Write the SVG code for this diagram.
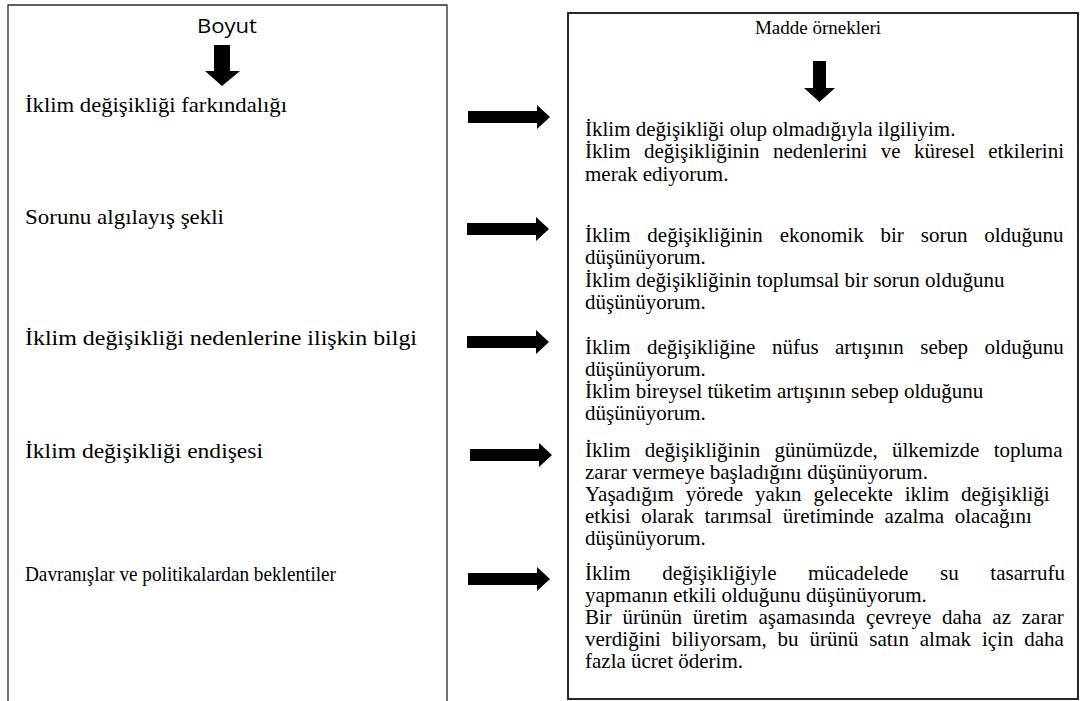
<svg xmlns="http://www.w3.org/2000/svg" xmlns:xlink="http://www.w3.org/1999/xlink" width="1086" height="701" viewBox="0 0 1086 701">
<style>
.frame{fill:none;stroke:#2a2a2a;stroke-width:1.3}
.frame2{fill:none;stroke:#111;stroke-width:1.8}
.serif{font-family:'Liberation Serif','Times New Roman','DejaVu Serif',serif;fill:#000}
.lt{font-size:22px}
.rt{font-size:21px}
.hd{font-size:19px}
.sans{font-family:'Open Sans','Noto Sans',sans-serif;font-size:20px;fill:#000}
.arr{fill:#000;stroke:none}
</style>
<defs>
<path id="rarrow" d="M0,-6 H69 V-12 L82,0 L69,12 V6 H0 Z"/>
</defs>
<rect width="1086" height="701" fill="#fff"/>

<g id="boyut-box">
  <path class="frame" d="M8,701 V5 H447 V701"/>
  <text class="sans" x="197" y="33" textLength="60" lengthAdjust="spacingAndGlyphs">Boyut</text>
  <polygon class="arr" points="214,45 230,45 230,71 240,71 222,86 205,71 214,71"/>
  <g id="dim-1"><text class="serif lt" font-family="Liberation Serif" x="25" y="112" textLength="262" lengthAdjust="spacingAndGlyphs">İklim değişikliği farkındalığı</text></g>
  <g id="dim-2"><text class="serif lt" font-family="Liberation Serif" x="25" y="224" textLength="199" lengthAdjust="spacingAndGlyphs">Sorunu algılayış şekli</text></g>
  <g id="dim-3"><text class="serif lt" font-family="Liberation Serif" x="25" y="345" textLength="392" lengthAdjust="spacingAndGlyphs">İklim değişikliği nedenlerine ilişkin bilgi</text></g>
  <g id="dim-4"><text class="serif lt" font-family="Liberation Serif" x="25" y="458" textLength="238" lengthAdjust="spacingAndGlyphs">İklim değişikliği endişesi</text></g>
  <g id="dim-5"><text class="serif lt" font-family="Liberation Serif" x="25" y="581" textLength="311" lengthAdjust="spacingAndGlyphs">Davranışlar ve politikalardan beklentiler</text></g>
</g>

<g id="madde-box">
  <rect class="frame2" x="568" y="13" width="510" height="686"/>
  <text class="serif hd" font-family="Liberation Serif" x="818" y="34" text-anchor="middle">Madde örnekleri</text>
  <polygon class="arr" points="813,61 826,61 826,88 835,88 819.5,102 804,88 813,88"/>
  <g id="item-1" class="serif rt" font-family="Liberation Serif">
    <text x="585" y="136">İklim değişikliği olup olmadığıyla ilgiliyim.</text>
    <text x="585" y="158" style="word-spacing:8.2px">İklim değişikliğinin nedenlerini ve küresel etkilerini</text>
    <text x="585" y="181">merak ediyorum.</text>
  </g>
  <g id="item-2" class="serif rt" font-family="Liberation Serif">
    <text x="585" y="242" style="word-spacing:11.6px">İklim değişikliğinin ekonomik bir sorun olduğunu</text>
    <text x="585" y="264">düşünüyorum.</text>
    <text x="585" y="287">İklim değişikliğinin toplumsal bir sorun olduğunu</text>
    <text x="585" y="309">düşünüyorum.</text>
  </g>
  <g id="item-3" class="serif rt" font-family="Liberation Serif">
    <text x="585" y="354" style="word-spacing:11.2px">İklim değişikliğine nüfus artışının sebep olduğunu</text>
    <text x="585" y="376">düşünüyorum.</text>
    <text x="585" y="398">İklim bireysel tüketim artışının sebep olduğunu</text>
    <text x="585" y="420">düşünüyorum.</text>
  </g>
  <g id="item-4" class="serif rt" font-family="Liberation Serif">
    <text x="585" y="457" style="word-spacing:9px">İklim değişikliğinin günümüzde, ülkemizde topluma</text>
    <text x="585" y="479">zarar vermeye başladığını düşünüyorum.</text>
    <text x="585" y="501" style="word-spacing:6.7px">Yaşadığım yörede yakın gelecekte iklim değişikliği</text>
    <text x="585" y="523" style="word-spacing:5.5px">etkisi olarak tarımsal üretiminde azalma olacağını</text>
    <text x="585" y="545">düşünüyorum.</text>
  </g>
  <g id="item-5" class="serif rt" font-family="Liberation Serif">
    <text x="585" y="580" style="word-spacing:26.4px">İklim değişikliğiyle mücadelede su tasarrufu</text>
    <text x="585" y="602">yapmanın etkili olduğunu düşünüyorum.</text>
    <text x="585" y="624" style="word-spacing:5.5px">Bir ürünün üretim aşamasında çevreye daha az zarar</text>
    <text x="585" y="646" style="word-spacing:5.6px">verdiğini biliyorsam, bu ürünü satın almak için daha</text>
    <text x="585" y="668">fazla ücret öderim.</text>
  </g>
</g>

<g id="connectors">
  <use xlink:href="#rarrow" href="#rarrow" class="arr" transform="translate(468,117)"/>
  <use xlink:href="#rarrow" href="#rarrow" class="arr" transform="translate(467,229)"/>
  <use xlink:href="#rarrow" href="#rarrow" class="arr" transform="translate(467,342)"/>
  <use xlink:href="#rarrow" href="#rarrow" class="arr" transform="translate(470,455)"/>
  <use xlink:href="#rarrow" href="#rarrow" class="arr" transform="translate(468,579)"/>
</g>
</svg>
